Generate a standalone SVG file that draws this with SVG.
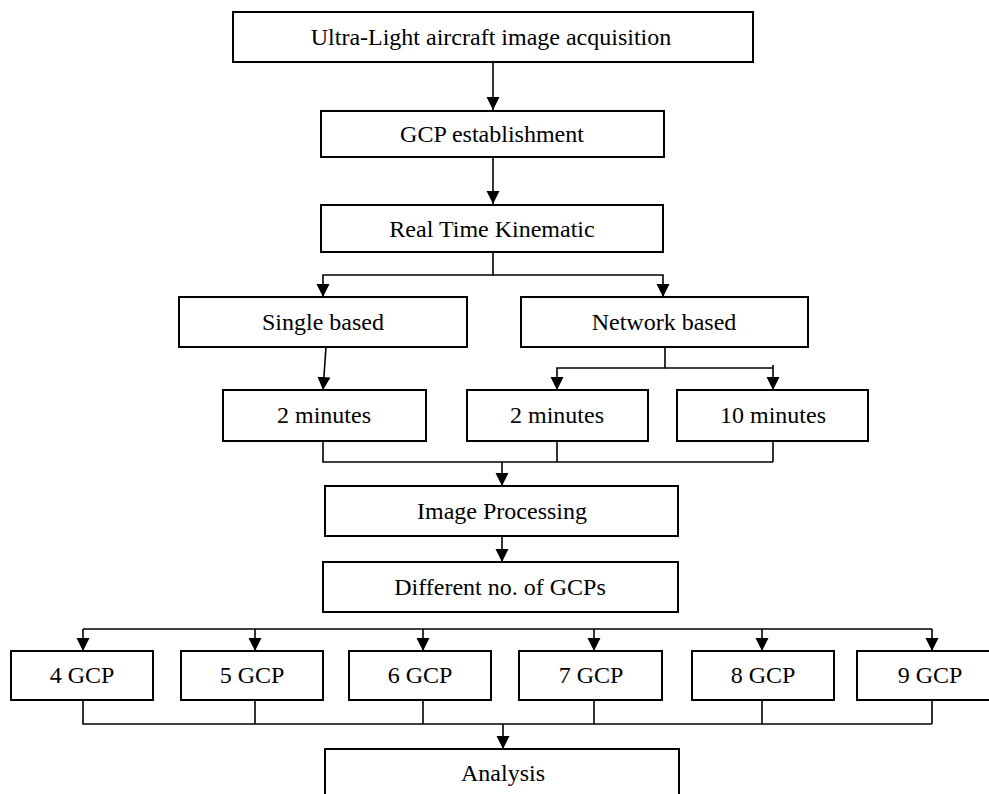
<svg xmlns="http://www.w3.org/2000/svg" width="989" height="794" viewBox="0 0 989 794">
<defs>
<marker id="ah" markerUnits="userSpaceOnUse" markerWidth="14" markerHeight="14" refX="13" refY="6.5" orient="auto">
<path d="M0,0 L13,6.5 L0,13 Z" fill="#000"/>
</marker>
<style>
.box{fill:#fff;stroke:#000;stroke-width:2}
.t{font-family:"Liberation Serif","Times New Roman",serif;font-size:24px;fill:#000;text-anchor:middle}
.c{fill:none;stroke:#000;stroke-width:1.6}
.a{marker-end:url(#ah)}
</style>
</defs>
<rect width="989" height="794" fill="#fff"/>
<g id="connectors">
<path class="c a" d="M493,62 V110"/>
<path class="c a" d="M493,157 V204"/>
<path class="c a" d="M493,252 V275 H323 V297"/>
<path class="c a" d="M493,275 H663 V297"/>
<path class="c a" d="M326,347 L323,390"/>
<path class="c a" d="M665,347 V368 H557 V390"/>
<path class="c" d="M665,368 H773"/>
<path class="c a" d="M773,365 V390"/>
<path class="c" d="M323,441 V462 H773 M557,441 V462 M773,441 V462"/>
<path class="c a" d="M502,462 V486"/>
<path class="c a" d="M502,536 V562"/>
<path class="c" d="M83,629 H932"/>
<path class="c a" d="M83,629 V651"/>
<path class="c a" d="M255,629 V651"/>
<path class="c a" d="M423,629 V651"/>
<path class="c a" d="M594,629 V651"/>
<path class="c a" d="M762,629 V651"/>
<path class="c a" d="M932,629 V651"/>
<path class="c" d="M83,700 V724 H932 M255,700 V724 M423,700 V724 M594,700 V724 M762,700 V724 M932,700 V724"/>
<path class="c a" d="M503,724 V749"/>
</g>
<g id="n-acq"><rect class="box" x="233" y="12" width="520" height="50"/><text class="t" x="491" y="45">Ultra-Light aircraft image acquisition</text></g>
<g id="n-gcp"><rect class="box" x="321" y="111" width="343" height="46"/><text class="t" x="492" y="142">GCP establishment</text></g>
<g id="n-rtk"><rect class="box" x="321" y="205" width="342" height="47"/><text class="t" x="492" y="237">Real Time Kinematic</text></g>
<g id="n-single"><rect class="box" x="179" y="297" width="288" height="50"/><text class="t" x="323" y="330">Single based</text></g>
<g id="n-network"><rect class="box" x="521" y="297" width="287" height="50"/><text class="t" x="664" y="330">Network based</text></g>
<g id="n-s2"><rect class="box" x="223" y="390" width="203" height="51"/><text class="t" x="324" y="423">2 minutes</text></g>
<g id="n-n2"><rect class="box" x="467" y="390" width="181" height="51"/><text class="t" x="557" y="423">2 minutes</text></g>
<g id="n-n10"><rect class="box" x="677" y="390" width="191" height="51"/><text class="t" x="773" y="423">10 minutes</text></g>
<g id="n-proc"><rect class="box" x="325" y="486" width="353" height="50"/><text class="t" x="502" y="519">Image Processing</text></g>
<g id="n-diff"><rect class="box" x="323" y="562" width="355" height="50"/><text class="t" x="500" y="595">Different no. of GCPs</text></g>
<g id="n-g4"><rect class="box" x="11" y="651" width="142" height="49"/><text class="t" x="82" y="683">4 GCP</text></g>
<g id="n-g5"><rect class="box" x="181" y="651" width="142" height="49"/><text class="t" x="252" y="683">5 GCP</text></g>
<g id="n-g6"><rect class="box" x="349" y="651" width="142" height="49"/><text class="t" x="420" y="683">6 GCP</text></g>
<g id="n-g7"><rect class="box" x="519" y="651" width="143" height="49"/><text class="t" x="591" y="683">7 GCP</text></g>
<g id="n-g8"><rect class="box" x="692" y="651" width="142" height="49"/><text class="t" x="763" y="683">8 GCP</text></g>
<g id="n-g9"><rect class="box" x="857" y="651" width="145" height="49"/><text class="t" x="930" y="683">9 GCP</text></g>
<g id="n-analysis"><rect class="box" x="325" y="749" width="354" height="52"/><text class="t" x="503" y="781">Analysis</text></g>
</svg>
